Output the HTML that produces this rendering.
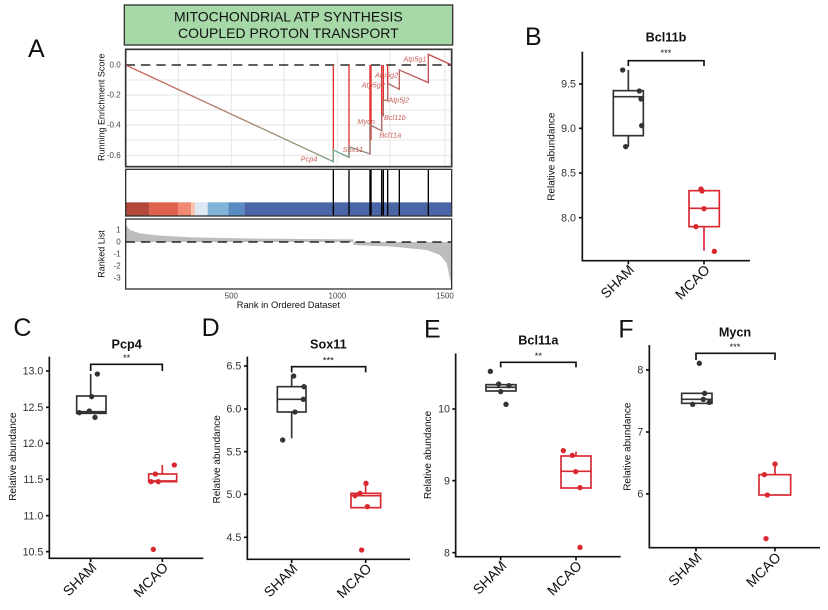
<!DOCTYPE html>
<html><head><meta charset="utf-8"><style>
html,body{margin:0;padding:0;background:#fff;}
svg{display:block;font-family:"Liberation Sans",sans-serif;}
</style></head><body>
<svg width="828" height="610" viewBox="0 0 828 610" xmlns="http://www.w3.org/2000/svg">
<defs>
<linearGradient id="cg" gradientUnits="userSpaceOnUse" x1="197" y1="0" x2="1175" y2="0">
<stop offset="0" stop-color="#d0605a"/><stop offset="0.6" stop-color="#8fa080"/><stop offset="0.65" stop-color="#6aa890"/><stop offset="0.8" stop-color="#b06a6a"/><stop offset="1" stop-color="#d04848"/>
</linearGradient>
</defs>
<text x="28" y="57" font-size="25" fill="#111">A</text>
<!-- Panel A in zoom coords -->
<g transform="translate(60,0) scale(0.33333)">
<rect x="193" y="15" width="985" height="120" fill="#a6d8a8" stroke="#333" stroke-width="4"/>
<text x="685" y="64" font-size="42" text-anchor="middle" fill="#111">MITOCHONDRIAL ATP SYNTHESIS</text>
<text x="685" y="114" font-size="42" text-anchor="middle" fill="#111">COUPLED PROTON TRANSPORT</text>
<g stroke="#e6e6e6" stroke-width="3">
<line x1="355" y1="148" x2="355" y2="500"/><line x1="514" y1="148" x2="514" y2="500"/><line x1="672" y1="148" x2="672" y2="500"/><line x1="832" y1="148" x2="832" y2="500"/><line x1="990" y1="148" x2="990" y2="500"/><line x1="1155" y1="148" x2="1155" y2="500"/>
<line x1="197" y1="240" x2="1175" y2="240"/><line x1="197" y1="285" x2="1175" y2="285"/><line x1="197" y1="330" x2="1175" y2="330"/><line x1="197" y1="375" x2="1175" y2="375"/><line x1="197" y1="420" x2="1175" y2="420"/><line x1="197" y1="466" x2="1175" y2="466"/>
</g>
<line x1="197" y1="195" x2="1175" y2="195" stroke="#000" stroke-width="4" stroke-dasharray="28,18"/>
<g stroke="#e03030" stroke-width="4">
<line x1="820" y1="195" x2="820" y2="485"/><line x1="867" y1="195" x2="867" y2="472"/><line x1="930" y1="195" x2="930" y2="462"/><line x1="933" y1="195" x2="933" y2="420"/><line x1="965" y1="195" x2="965" y2="392"/><line x1="970" y1="195" x2="970" y2="347"/><line x1="983" y1="195" x2="983" y2="302"/>
</g>
<path d="M197,195 L820,485 L820,450 L867,472 L867,440 L930,462 L930,375 L965,392 L965,345 L970,347 L970,300 L983,302 L983,250 L1018,268 L1018,210 L1105,248 L1105,163 L1175,195" fill="none" stroke="url(#cg)" stroke-width="4"/>
<g font-size="22" font-style="italic" fill="#c8605c">
<text x="722" y="484">Pcp4</text><text x="848" y="456">Sox11</text><text x="892" y="372">Mycn</text><text x="958" y="412">Bcl11a</text><text x="972" y="360">Bcl11b</text><text x="985" y="308">Atp5j2</text><text x="905" y="262">Atp5g2</text><text x="945" y="232">Atp5g2</text><text x="1030" y="184">Atp5g1</text>
</g>
<rect x="197" y="148" width="978" height="352" fill="none" stroke="#333" stroke-width="5"/>
<g font-size="24" fill="#444" text-anchor="end">
<text x="182" y="203">0.0</text><text x="182" y="293">-0.2</text><text x="182" y="383">-0.4</text><text x="182" y="474">-0.6</text>
</g>
<text transform="translate(133,322) rotate(-90)" font-size="27" text-anchor="middle" fill="#111">Running Enrichment Score</text>
<!-- hits panel -->
<rect x="197" y="607" width="71" height="41" fill="#b2473a"/><rect x="268" y="607" width="87" height="41" fill="#e0624c"/><rect x="355" y="607" width="38" height="41" fill="#f08a73"/><rect x="393" y="607" width="12" height="41" fill="#fbc5b0"/><rect x="405" y="607" width="38" height="41" fill="#dde8f4"/><rect x="443" y="607" width="62" height="41" fill="#80b4d8"/><rect x="505" y="607" width="48" height="41" fill="#5a8cc4"/><rect x="553" y="607" width="622" height="41" fill="#4a66a8"/>
<g stroke="#000" stroke-width="4">
<line x1="820" y1="508" x2="820" y2="648"/><line x1="867" y1="508" x2="867" y2="648"/><line x1="930" y1="508" x2="930" y2="648"/><line x1="933" y1="508" x2="933" y2="648"/><line x1="965" y1="508" x2="965" y2="648"/><line x1="970" y1="508" x2="970" y2="648"/><line x1="983" y1="508" x2="983" y2="648"/><line x1="1018" y1="508" x2="1018" y2="648"/><line x1="1105" y1="508" x2="1105" y2="648"/>
</g>
<rect x="197" y="508" width="978" height="140" fill="none" stroke="#333" stroke-width="4"/>
<!-- ranked list -->
<path d="M197,726 L197,675 L210,690 L240,700 L300,707 L400,712 L600,716 L880,718 L880,735 L1000,740 L1100,750 L1140,765 L1160,790 L1175,860 L1175,726 Z" fill="#bdbdbd"/>
<line x1="197" y1="726" x2="1175" y2="726" stroke="#000" stroke-width="4" stroke-dasharray="28,18"/>
<rect x="197" y="657" width="978" height="210" fill="none" stroke="#333" stroke-width="4"/>
<g font-size="24" fill="#444" text-anchor="end">
<text x="182" y="698">1</text><text x="182" y="734">0</text><text x="182" y="770">-1</text><text x="182" y="806">-2</text><text x="182" y="842">-3</text>
</g>
<text transform="translate(133,762) rotate(-90)" font-size="27" text-anchor="middle" fill="#111">Ranked List</text>
<g font-size="24" fill="#444" text-anchor="middle">
<text x="514" y="896">500</text><text x="832" y="896">1000</text><text x="1155" y="896">1500</text>
</g>
<text x="685" y="924" font-size="28" text-anchor="middle" fill="#111">Rank in Ordered Dataset</text>
</g>

<!-- Panel B -->
<g transform="translate(500,20) scale(0.33333)">
<text x="75" y="75" font-size="75" fill="#111">B</text>
<text x="498" y="65" font-size="38" font-weight="bold" text-anchor="middle" fill="#111">Bcl11b</text>
<path d="M385,138 V122 H612 V138" fill="none" stroke="#111" stroke-width="5"/>
<text x="498" y="108" font-size="28" text-anchor="middle" fill="#111">***</text>
<g stroke="#333" stroke-width="5" fill="none">
<line x1="385" y1="150" x2="385" y2="212"/><line x1="385" y1="347" x2="385" y2="380"/>
<rect x="340" y="212" width="90" height="135"/><line x1="340" y1="230" x2="430" y2="230"/>
</g>
<g fill="#333"><circle cx="368" cy="150" r="8"/><circle cx="418" cy="213" r="8"/><circle cx="423" cy="237" r="8"/><circle cx="425" cy="317" r="8"/><circle cx="377" cy="380" r="8"/></g>
<g stroke="#d92830" stroke-width="5" fill="none">
<line x1="612" y1="620" x2="612" y2="692"/>
<rect x="567" y="512" width="91" height="108"/><line x1="567" y1="565" x2="658" y2="565"/>
</g>
<g fill="#d92830"><circle cx="603" cy="507" r="8"/><circle cx="606" cy="513" r="8"/><circle cx="612" cy="566" r="8"/><circle cx="588" cy="620" r="8"/><circle cx="643" cy="694" r="8"/></g>
<path d="M247,95 V722 H750" fill="none" stroke="#111" stroke-width="5"/>
<g stroke="#111" stroke-width="5"><line x1="237" y1="192" x2="247" y2="192"/><line x1="237" y1="325" x2="247" y2="325"/><line x1="237" y1="459" x2="247" y2="459"/><line x1="237" y1="593" x2="247" y2="593"/><line x1="385" y1="722" x2="385" y2="733"/><line x1="612" y1="722" x2="612" y2="733"/></g>
<g font-size="32" fill="#333" text-anchor="end"><text x="228" y="203">9.5</text><text x="228" y="336">9.0</text><text x="228" y="470">8.5</text><text x="228" y="604">8.0</text></g>
<text transform="translate(163,410) rotate(-90)" font-size="30" text-anchor="middle" fill="#111">Relative abundance</text>
<g font-size="42" fill="#111" text-anchor="end"><text transform="translate(405,752) rotate(-45)">SHAM</text><text transform="translate(632,752) rotate(-45)">MCAO</text></g>
</g>

<!-- Panels C & D -->
<g transform="translate(0,310) scale(0.33333)">
<text x="40" y="78" font-size="75" fill="#111">C</text>
<text x="380" y="115" font-size="38" font-weight="bold" text-anchor="middle" fill="#111">Pcp4</text>
<path d="M272,183 V163 H487 V183" fill="none" stroke="#111" stroke-width="5"/>
<text x="380" y="153" font-size="28" text-anchor="middle" fill="#111">**</text>
<g stroke="#333" stroke-width="5" fill="none"><line x1="272" y1="192" x2="272" y2="258"/><rect x="230" y="258" width="88" height="52"/><line x1="230" y1="305" x2="318" y2="305"/></g>
<g fill="#333"><circle cx="238" cy="308" r="8"/><circle cx="268" cy="303" r="8"/><circle cx="275" cy="260" r="8"/><circle cx="292" cy="192" r="8"/><circle cx="285" cy="322" r="8"/></g>
<g stroke="#d92830" stroke-width="5" fill="none"><line x1="487" y1="465" x2="487" y2="492"/><rect x="446" y="492" width="84" height="23"/><line x1="446" y1="513" x2="530" y2="513"/></g>
<g fill="#d92830"><circle cx="453" cy="515" r="8"/><circle cx="475" cy="515" r="8"/><circle cx="466" cy="492" r="8"/><circle cx="523" cy="465" r="8"/><circle cx="460" cy="718" r="8"/></g>
<path d="M148,140 V745 H610" fill="none" stroke="#111" stroke-width="5"/>
<g stroke="#111" stroke-width="5"><line x1="138" y1="183" x2="148" y2="183"/><line x1="138" y1="292" x2="148" y2="292"/><line x1="138" y1="400" x2="148" y2="400"/><line x1="138" y1="508" x2="148" y2="508"/><line x1="138" y1="617" x2="148" y2="617"/><line x1="138" y1="725" x2="148" y2="725"/><line x1="272" y1="745" x2="272" y2="756"/><line x1="487" y1="745" x2="487" y2="756"/></g>
<g font-size="32" fill="#333" text-anchor="end"><text x="130" y="194">13.0</text><text x="130" y="303">12.5</text><text x="130" y="411">12.0</text><text x="130" y="519">11.5</text><text x="130" y="628">11.0</text><text x="130" y="736">10.5</text></g>
<text transform="translate(48,440) rotate(-90)" font-size="30" text-anchor="middle" fill="#111">Relative abundance</text>
<g font-size="42" fill="#111" text-anchor="end"><text transform="translate(292,775) rotate(-45)">SHAM</text><text transform="translate(507,775) rotate(-45)">MCAO</text></g>

<text x="605" y="78" font-size="75" fill="#111">D</text>
<text x="985" y="115" font-size="38" font-weight="bold" text-anchor="middle" fill="#111">Sox11</text>
<path d="M875,187 V170 H1097 V187" fill="none" stroke="#111" stroke-width="5"/>
<text x="985" y="160" font-size="28" text-anchor="middle" fill="#111">***</text>
<g stroke="#333" stroke-width="5" fill="none"><line x1="875" y1="195" x2="875" y2="230"/><line x1="875" y1="306" x2="875" y2="385"/><rect x="832" y="230" width="86" height="76"/><line x1="832" y1="268" x2="918" y2="268"/></g>
<g fill="#333"><circle cx="881" cy="198" r="8"/><circle cx="912" cy="230" r="8"/><circle cx="910" cy="268" r="8"/><circle cx="885" cy="306" r="8"/><circle cx="848" cy="390" r="8"/></g>
<g stroke="#d92830" stroke-width="5" fill="none"><line x1="1097" y1="520" x2="1097" y2="550"/><rect x="1053" y="550" width="89" height="43"/><line x1="1053" y1="557" x2="1142" y2="557"/></g>
<g fill="#d92830"><circle cx="1098" cy="520" r="8"/><circle cx="1080" cy="550" r="8"/><circle cx="1065" cy="557" r="8"/><circle cx="1102" cy="590" r="8"/><circle cx="1085" cy="720" r="8"/></g>
<path d="M742,140 V748 H1230" fill="none" stroke="#111" stroke-width="5"/>
<g stroke="#111" stroke-width="5"><line x1="732" y1="168" x2="742" y2="168"/><line x1="732" y1="297" x2="742" y2="297"/><line x1="732" y1="425" x2="742" y2="425"/><line x1="732" y1="553" x2="742" y2="553"/><line x1="732" y1="682" x2="742" y2="682"/><line x1="875" y1="748" x2="875" y2="759"/><line x1="1097" y1="748" x2="1097" y2="759"/></g>
<g font-size="32" fill="#333" text-anchor="end"><text x="724" y="179">6.5</text><text x="724" y="308">6.0</text><text x="724" y="436">5.5</text><text x="724" y="564">5.0</text><text x="724" y="693">4.5</text></g>
<text transform="translate(660,448) rotate(-90)" font-size="30" text-anchor="middle" fill="#111">Relative abundance</text>
<g font-size="42" fill="#111" text-anchor="end"><text transform="translate(895,778) rotate(-45)">SHAM</text><text transform="translate(1117,778) rotate(-45)">MCAO</text></g>
</g>

<!-- Panels E & F -->
<g transform="translate(410,310) scale(0.33333)">
<text x="42" y="82" font-size="75" fill="#111">E</text>
<text x="385" y="103" font-size="38" font-weight="bold" text-anchor="middle" fill="#111">Bcl11a</text>
<path d="M272,172 V157 H498 V172" fill="none" stroke="#111" stroke-width="5"/>
<text x="385" y="147" font-size="28" text-anchor="middle" fill="#111">**</text>
<g stroke="#333" stroke-width="5" fill="none"><rect x="228" y="224" width="90" height="19"/><line x1="228" y1="232" x2="318" y2="232"/></g>
<g fill="#333"><circle cx="241" cy="184" r="8"/><circle cx="266" cy="222" r="8"/><circle cx="297" cy="227" r="8"/><circle cx="272" cy="245" r="8"/><circle cx="288" cy="283" r="8"/></g>
<g stroke="#d92830" stroke-width="5" fill="none"><line x1="498" y1="425" x2="498" y2="438"/><rect x="453" y="438" width="90" height="96"/><line x1="453" y1="484" x2="543" y2="484"/></g>
<g fill="#d92830"><circle cx="460" cy="422" r="8"/><circle cx="487" cy="436" r="8"/><circle cx="497" cy="485" r="8"/><circle cx="510" cy="533" r="8"/><circle cx="510" cy="712" r="8"/></g>
<path d="M137,130 V740 H632" fill="none" stroke="#111" stroke-width="5"/>
<g stroke="#111" stroke-width="5"><line x1="127" y1="297" x2="137" y2="297"/><line x1="127" y1="512" x2="137" y2="512"/><line x1="127" y1="728" x2="137" y2="728"/><line x1="272" y1="740" x2="272" y2="751"/><line x1="498" y1="740" x2="498" y2="751"/></g>
<g font-size="32" fill="#333" text-anchor="end"><text x="120" y="308">10</text><text x="120" y="523">9</text><text x="120" y="739">8</text></g>
<text transform="translate(63,435) rotate(-90)" font-size="30" text-anchor="middle" fill="#111">Relative abundance</text>
<g font-size="42" fill="#111" text-anchor="end"><text transform="translate(292,770) rotate(-45)">SHAM</text><text transform="translate(518,770) rotate(-45)">MCAO</text></g>

<text x="625" y="82" font-size="75" fill="#111">F</text>
<text x="975" y="80" font-size="38" font-weight="bold" text-anchor="middle" fill="#111">Mycn</text>
<path d="M858,150 V130 H1095 V150" fill="none" stroke="#111" stroke-width="5"/>
<text x="975" y="120" font-size="28" text-anchor="middle" fill="#111">***</text>
<g stroke="#333" stroke-width="5" fill="none"><rect x="815" y="250" width="91" height="30"/><line x1="815" y1="268" x2="906" y2="268"/></g>
<g fill="#333"><circle cx="868" cy="160" r="8"/><circle cx="884" cy="250" r="8"/><circle cx="880" cy="268" r="8"/><circle cx="898" cy="277" r="8"/><circle cx="848" cy="283" r="8"/></g>
<g stroke="#d92830" stroke-width="5" fill="none"><line x1="1095" y1="462" x2="1095" y2="494"/><rect x="1047" y="494" width="95" height="61"/></g>
<g fill="#d92830"><circle cx="1095" cy="462" r="8"/><circle cx="1063" cy="494" r="8"/><circle cx="1072" cy="555" r="8"/><circle cx="1068" cy="686" r="8"/></g>
<path d="M718,105 V713 H1230" fill="none" stroke="#111" stroke-width="5"/>
<g stroke="#111" stroke-width="5"><line x1="708" y1="180" x2="718" y2="180"/><line x1="708" y1="366" x2="718" y2="366"/><line x1="708" y1="552" x2="718" y2="552"/><line x1="858" y1="713" x2="858" y2="724"/><line x1="1095" y1="713" x2="1095" y2="724"/></g>
<g font-size="32" fill="#333" text-anchor="end"><text x="700" y="191">8</text><text x="700" y="377">7</text><text x="700" y="563">6</text></g>
<text transform="translate(662,410) rotate(-90)" font-size="30" text-anchor="middle" fill="#111">Relative abundance</text>
<g font-size="42" fill="#111" text-anchor="end"><text transform="translate(878,745) rotate(-45)">SHAM</text><text transform="translate(1115,745) rotate(-45)">MCAO</text></g>
</g>
</svg>
</body></html>
